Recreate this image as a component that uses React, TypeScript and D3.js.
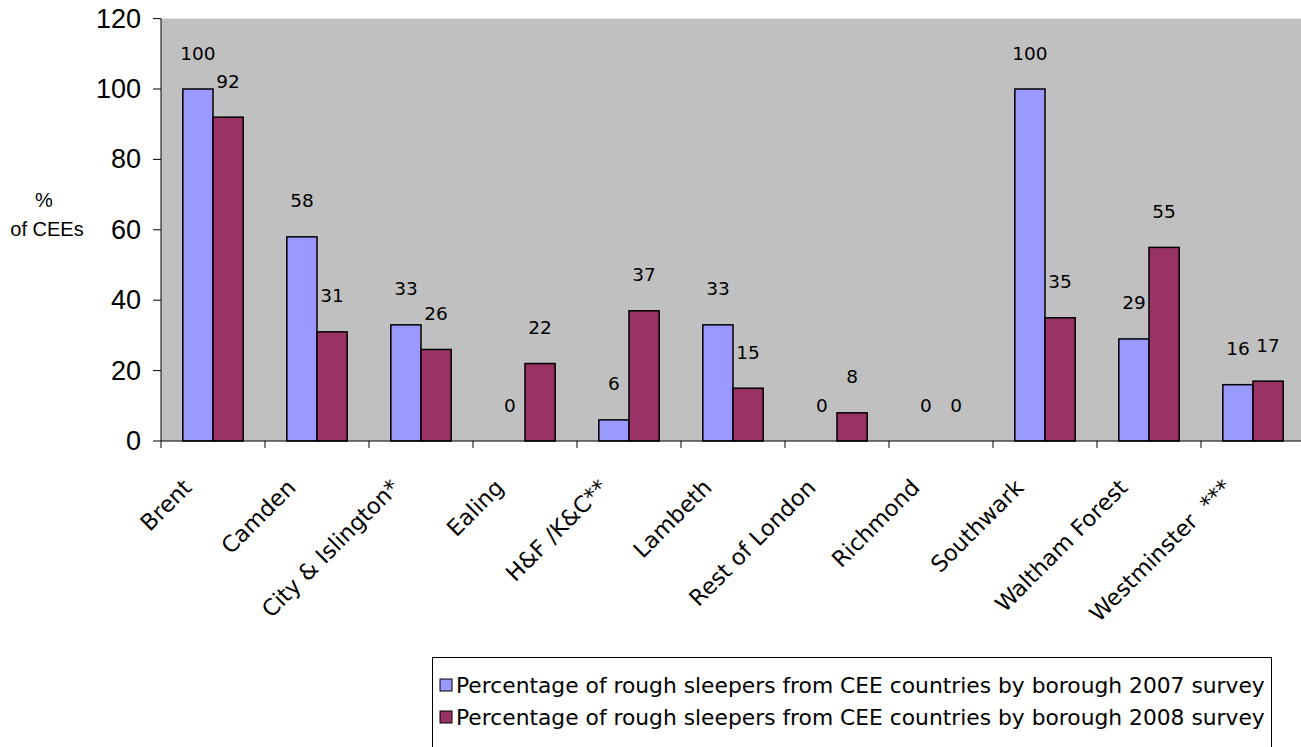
import React from "react";
import * as d3 from "d3";

const categories = [
  "Brent",
  "Camden",
  "City & Islington*",
  "Ealing",
  "H&F /K&C**",
  "Lambeth",
  "Rest of London",
  "Richmond",
  "Southwark",
  "Waltham Forest",
  "Westminster  ***",
];
const values2007 = [100, 58, 33, 0, 6, 33, 0, 0, 100, 29, 16];
const values2008 = [92, 31, 26, 22, 37, 15, 8, 0, 35, 55, 17];
const seriesNames = [
  "Percentage of rough sleepers from CEE countries by borough 2007 survey",
  "Percentage of rough sleepers from CEE countries by borough 2008 survey",
];
const yTicks = [0, 20, 40, 60, 80, 100, 120];

const W = 1301;
const H = 747;
const plot = { left: 161, top: 18.6, right: 1305, bottom: 441 };
const colors = ["#9999FF", "#993366"];
const TAHOMA = "Tahoma, 'DejaVu Sans', Verdana, sans-serif";
const ARIAL = "Arial, 'Liberation Sans', sans-serif";

export default function App() {
  const x = d3
    .scaleBand<string>()
    .domain(categories)
    .range([plot.left, plot.right])
    .paddingInner(0.42)
    .paddingOuter(0.21);
  const inner = d3.scaleBand<string>().domain(["2007", "2008"]).range([0, x.bandwidth()]);
  const y = d3.scaleLinear().domain([0, 120]).range([plot.bottom, plot.top]);
  const step = (plot.right - plot.left) / categories.length;
  const series = [values2007, values2008];
  const keys = ["2007", "2008"];

  return (
    <svg
      width={W}
      height={H}
      style={{ position: "absolute", left: 0, top: 0, background: "#fff" }}
    >
      <rect
        x={plot.left}
        y={plot.top}
        width={plot.right - plot.left}
        height={plot.bottom - plot.top}
        fill="#C0C0C0"
      />
      {/* bars */}
      {categories.map((c, i) =>
        series.map((vals, s) => {
          const v = vals[i];
          if (v <= 0) return null;
          const bx = (x(c) as number) + (inner(keys[s]) as number);
          return (
            <rect
              key={c + s}
              x={bx}
              y={y(v)}
              width={inner.bandwidth()}
              height={y(0) - y(v)}
              fill={colors[s]}
              stroke="#000"
              strokeWidth={1.5}
            />
          );
        })
      )}
      {/* value labels */}
      {categories.map((c, i) =>
        series.map((vals, s) => {
          const v = vals[i];
          const bx = (x(c) as number) + (inner(keys[s]) as number) + inner.bandwidth() / 2;
          return (
            <text
              key={"l" + c + s}
              x={bx}
              y={y(v) - 36}
              textAnchor="middle"
              dominantBaseline="central"
              fontFamily={TAHOMA}
              fontSize={18.5}
              fill="#000"
            >
              {v}
            </text>
          );
        })
      )}
      {/* axes */}
      <line x1={plot.left} x2={plot.left} y1={plot.top} y2={plot.bottom} stroke="#000" strokeWidth={1} />
      <line x1={plot.left} x2={plot.right} y1={plot.bottom} y2={plot.bottom} stroke="#000" strokeWidth={1} />
      {yTicks.map((t) => (
        <g key={"yt" + t}>
          <line x1={plot.left - 8} x2={plot.left} y1={y(t)} y2={y(t)} stroke="#000" />
          <text
            x={141}
            y={y(t)}
            textAnchor="end"
            dominantBaseline="central"
            fontFamily={ARIAL}
            fontSize={27}
            fill="#000"
          >
            {t}
          </text>
        </g>
      ))}
      {d3.range(categories.length + 1).map((i) => (
        <line
          key={"xt" + i}
          x1={plot.left + i * step}
          x2={plot.left + i * step}
          y1={plot.bottom}
          y2={plot.bottom + 7}
          stroke="#000"
        />
      ))}
      {categories.map((c) => {
        const cx = (x(c) as number) + x.bandwidth() / 2;
        return (
          <text
            key={"cl" + c}
            transform={`translate(${cx - 20},${489}) rotate(-45)`}
            textAnchor="end"
            fontFamily={TAHOMA}
            fontSize={22.5}
            fill="#000"
            style={{ whiteSpace: "pre" }}
          >
            {c}
          </text>
        );
      })}
      {/* y title */}
      <text x={44} y={207} textAnchor="middle" fontFamily={ARIAL} fontSize={20} fill="#000">
        %
      </text>
      <text x={47} y={236} textAnchor="middle" fontFamily={ARIAL} fontSize={20} fill="#000">
        of CEEs
      </text>
      {/* legend */}
      <rect x={432.5} y={657.5} width={839} height={100} fill="#fff" stroke="#000" strokeWidth={1} />
      {seriesNames.map((n, i) => (
        <g key={"lg" + i}>
          <rect
            x={440}
            y={679 + i * 32}
            width={12}
            height={12}
            fill={colors[i]}
            stroke="#000"
            strokeWidth={1}
          />
          <text
            x={456}
            y={685 + i * 32}
            dominantBaseline="central"
            fontFamily={TAHOMA}
            fontSize={21.8}
            fill="#000"
          >
            {n}
          </text>
        </g>
      ))}
    </svg>
  );
}
